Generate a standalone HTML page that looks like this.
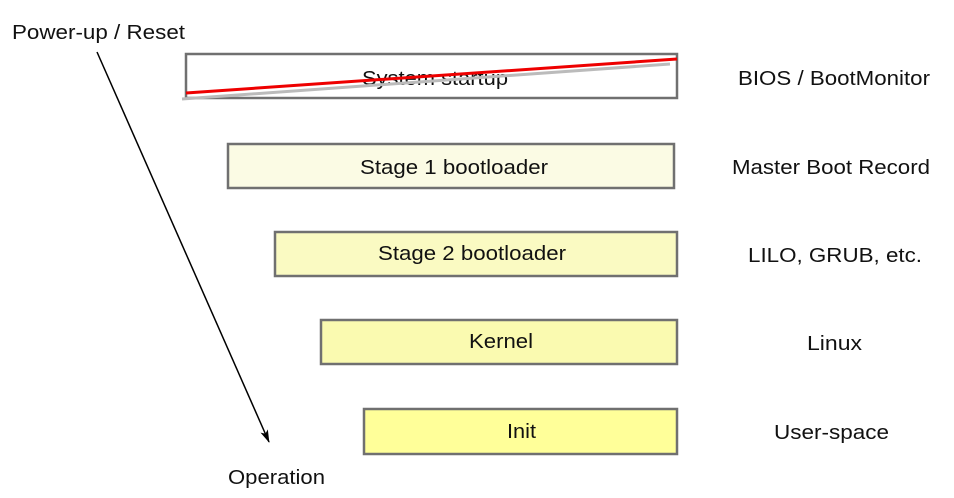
<!DOCTYPE html>
<html><head><meta charset="utf-8"><style>
html,body{margin:0;padding:0;background:#fff;}
svg{display:block;font-family:"Liberation Sans",Arial,sans-serif;}
</style></head><body>
<svg width="954" height="498" viewBox="0 0 954 498" xmlns="http://www.w3.org/2000/svg">
<defs><marker id="ah" markerWidth="14" markerHeight="10" refX="12" refY="4" orient="auto" markerUnits="userSpaceOnUse"><path d="M0,0 L13,4 L0,8 L3,4 z" fill="#000"/></marker></defs>
<g stroke="#707070" stroke-width="2.5">
<rect x="186" y="54" width="491" height="44" fill="#fff"/>
<rect x="228" y="144" width="446" height="44" fill="#fbfbe4"/>
<rect x="275" y="232" width="402" height="44" fill="#fafac2"/>
<rect x="321" y="320" width="356" height="44" fill="#fafab0"/>
<rect x="364" y="409" width="313" height="45" fill="#ffff99"/>
</g>
<g font-size="20" fill="#111" lengthAdjust="spacingAndGlyphs">
<text x="362" y="85" textLength="146" lengthAdjust="spacingAndGlyphs">System startup</text>
<text x="360" y="174" textLength="188" lengthAdjust="spacingAndGlyphs">Stage 1 bootloader</text>
<text x="378" y="260" textLength="188" lengthAdjust="spacingAndGlyphs">Stage 2 bootloader</text>
<text x="469" y="348" textLength="64" lengthAdjust="spacingAndGlyphs">Kernel</text>
<text x="507" y="438" textLength="29" lengthAdjust="spacingAndGlyphs">Init</text>
</g>
<line x1="182" y1="99" x2="670" y2="64" stroke="#bbb" stroke-width="3"/>
<line x1="186" y1="93" x2="677" y2="59" stroke="#ee0000" stroke-width="3"/>
<line x1="97" y1="52" x2="269" y2="442" stroke="#000" stroke-width="1.5" marker-end="url(#ah)"/>
<g font-size="20" fill="#111">
<text x="12" y="39" textLength="173" lengthAdjust="spacingAndGlyphs">Power-up / Reset</text>
<text x="228" y="484" textLength="97" lengthAdjust="spacingAndGlyphs">Operation</text>
<text x="738" y="85" textLength="192" lengthAdjust="spacingAndGlyphs">BIOS / BootMonitor</text>
<text x="732" y="174" textLength="198" lengthAdjust="spacingAndGlyphs">Master Boot Record</text>
<text x="748" y="262" textLength="174" lengthAdjust="spacingAndGlyphs">LILO, GRUB, etc.</text>
<text x="807" y="350" textLength="55" lengthAdjust="spacingAndGlyphs">Linux</text>
<text x="774" y="439" textLength="115" lengthAdjust="spacingAndGlyphs">User-space</text>
</g>
</svg>
</body></html>
